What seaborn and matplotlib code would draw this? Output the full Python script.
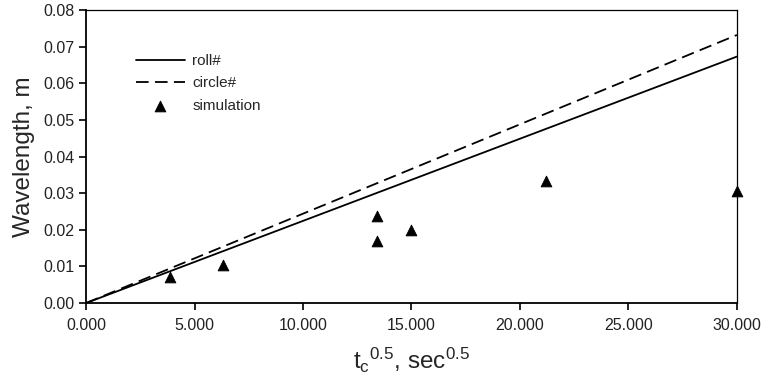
import numpy as np
import pandas as pd
import matplotlib
matplotlib.use("Agg")
import matplotlib.pyplot as plt
import seaborn as sns
from matplotlib.ticker import FormatStrFormatter

# dados
linha_x = [0.0, 30.0]
roll = [0.0, 0.0673]
circle = [0.0, 0.0732]

sim_x = [3.87, 6.32, 13.42, 13.42, 15.0, 21.2, 30.0]
sim_y = [0.0072, 0.0103, 0.0238, 0.0170, 0.0199, 0.0332, 0.0305]

x_ticks = [0, 5, 10, 15, 20, 25, 30]
y_ticks = [0.0, 0.01, 0.02, 0.03, 0.04, 0.05, 0.06, 0.07, 0.08]

sns.set_style("ticks")
plt.rcParams['font.family'] = ['Liberation Sans', 'DejaVu Sans']
plt.rcParams['mathtext.fontset'] = 'custom'
plt.rcParams['mathtext.rm'] = 'Liberation Sans'
plt.rcParams['mathtext.it'] = 'Liberation Sans'

fig = plt.figure(figsize=(7.62, 3.88), dpi=100)
ax = fig.add_axes([0.113, 0.219, 0.854, 0.755])

df_linhas = pd.DataFrame({'x': linha_x, 'roll': roll, 'circle': circle})
sns.lineplot(data=df_linhas, x='x', y='roll', ax=ax, color='black', lw=1.3, label='roll#')
sns.lineplot(data=df_linhas, x='x', y='circle', ax=ax, color='black', lw=1.3,
             linestyle=(0, (7, 3.5)), label='circle#')
sns.scatterplot(x=sim_x, y=sim_y, ax=ax, marker='^', color='black', s=60,
                edgecolor='black', label='simulation', zorder=5, clip_on=False)

ax.set_xlim(0, 30)
ax.set_ylim(0, 0.08)
ax.set_xticks(x_ticks)
ax.set_yticks(y_ticks)
ax.xaxis.set_major_formatter(FormatStrFormatter('%.3f'))
ax.yaxis.set_major_formatter(FormatStrFormatter('%.2f'))
ax.tick_params(labelsize=11.5, length=5, width=1.2, color='black', labelcolor='#222222')
ax.tick_params(axis='x', pad=6)
for s in ['left', 'bottom']:
    ax.spines[s].set_linewidth(1.3)
for s in ['top', 'right']:
    ax.spines[s].set_linewidth(0.9)
for s in ax.spines.values():
    s.set_color('black')

ax.set_xlabel(r't$_\mathrm{c}$$^{0.5}$, sec$^{0.5}$', fontsize=17.5, labelpad=9)
ax.set_ylabel('Wavelength, m', fontsize=17.5, labelpad=6)

ax.legend(loc='upper left', bbox_to_anchor=(0.055, 0.897), frameon=False, fontsize=11,
          handlelength=3.2, labelspacing=0.55, handletextpad=0.5)

fig.savefig('out.png', dpi=100)
